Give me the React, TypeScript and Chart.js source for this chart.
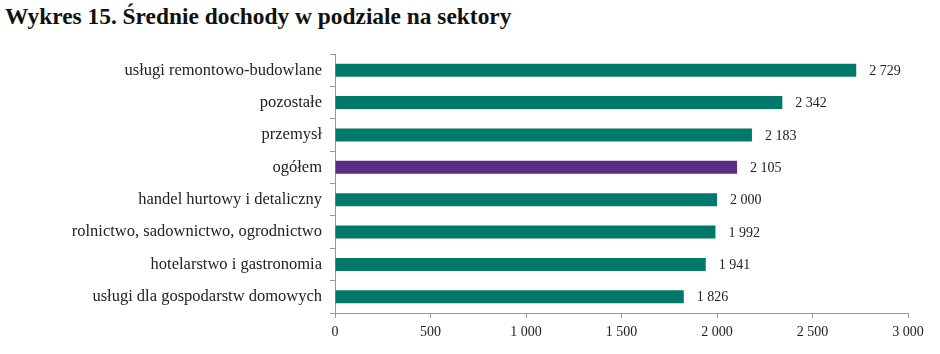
import React, { useEffect, useRef } from "react";
import { Chart, registerables } from "chart.js";

Chart.register(...registerables);

const categories = [
  "usługi remontowo-budowlane",
  "pozostałe",
  "przemysł",
  "ogółem",
  "handel hurtowy i detaliczny",
  "rolnictwo, sadownictwo, ogrodnictwo",
  "hotelarstwo i gastronomia",
  "usługi dla gospodarstw domowych",
];
const values = [2729, 2342, 2183, 2105, 2000, 1992, 1941, 1826];
const highlight = "ogółem";
const xTicks = [0, 500, 1000, 1500, 2000, 2500, 3000];
const titleText = "Wykres 15. Średnie dochody w podziale na sektory";

const TEAL = "#00786a";
const PURPLE = "#5b2d84";
const FONT = "'Liberation Serif', 'DejaVu Serif', serif";

const fmt = (v: number) => {
  const s = String(Math.round(v));
  return s.replace(/\B(?=(\d{3})+(?!\d))/g, " ");
};

const valueLabels = {
  id: "valueLabels",
  afterDatasetsDraw(chart: any) {
    const ctx = chart.ctx;
    const meta = chart.getDatasetMeta(0);
    ctx.save();
    ctx.font = `14px ${FONT}`;
    ctx.fillStyle = "#222";
    ctx.textAlign = "left";
    ctx.textBaseline = "middle";
    meta.data.forEach((bar: any, i: number) => {
      ctx.fillText(fmt(values[i]), bar.x + 13, bar.y + 1);
    });
    ctx.restore();
  },
};

export default function App() {
  const ref = useRef<HTMLCanvasElement>(null);
  useEffect(() => {
    const chart = new Chart(ref.current!, {
      type: "bar",
      data: {
        labels: categories,
        datasets: [
          {
            data: values,
            backgroundColor: categories.map((c) => (c === highlight ? PURPLE : TEAL)),
            barPercentage: 0.4,
            categoryPercentage: 1,
          },
        ],
      },
      options: {
        indexAxis: "y",
        animation: false,
        responsive: false,
        layout: { padding: { top: 54, right: 32, left: 0, bottom: 0 } },
        plugins: { legend: { display: false }, tooltip: { enabled: false } },
        scales: {
          x: {
            min: 0,
            max: 3000,
            afterBuildTicks: (s: any) => {
              s.ticks = xTicks.map((v) => ({ value: v }));
            },
            afterFit: (s: any) => {
              s.height = 41;
            },
            grid: {
              drawOnChartArea: false,
              drawTicks: true,
              tickLength: 5,
              color: "#999",
            },
            border: { color: "#999" },
            ticks: {
              callback: (v: any) => fmt(Number(v)),
              font: { family: FONT, size: 14 },
              color: "#222",
              padding: 6,
              maxRotation: 0,
            },
          },
          y: {
            afterFit: (s: any) => {
              s.width = 335;
            },
            grid: {
              drawOnChartArea: false,
              drawTicks: true,
              tickLength: 5,
              color: "#999",
              offset: true,
            },
            border: { color: "#999" },
            ticks: {
              font: { family: FONT, size: 16.5 },
              color: "#222",
              padding: 8,
            },
          },
        },
      },
      plugins: [valueLabels],
    });
    return () => chart.destroy();
  }, []);
  return (
    <div style={{ position: "fixed", left: 0, top: 0, width: 940, height: 354, background: "#fff" }}>
      <div
        style={{
          position: "absolute",
          left: 5,
          top: 3,
          font: `bold 23.4px ${FONT}`,
          color: "#111",
          whiteSpace: "nowrap",
        }}
      >
        {titleText}
      </div>
      <canvas ref={ref} width={940} height={354} style={{ position: "absolute", left: 0, top: 0 }} />
    </div>
  );
}
